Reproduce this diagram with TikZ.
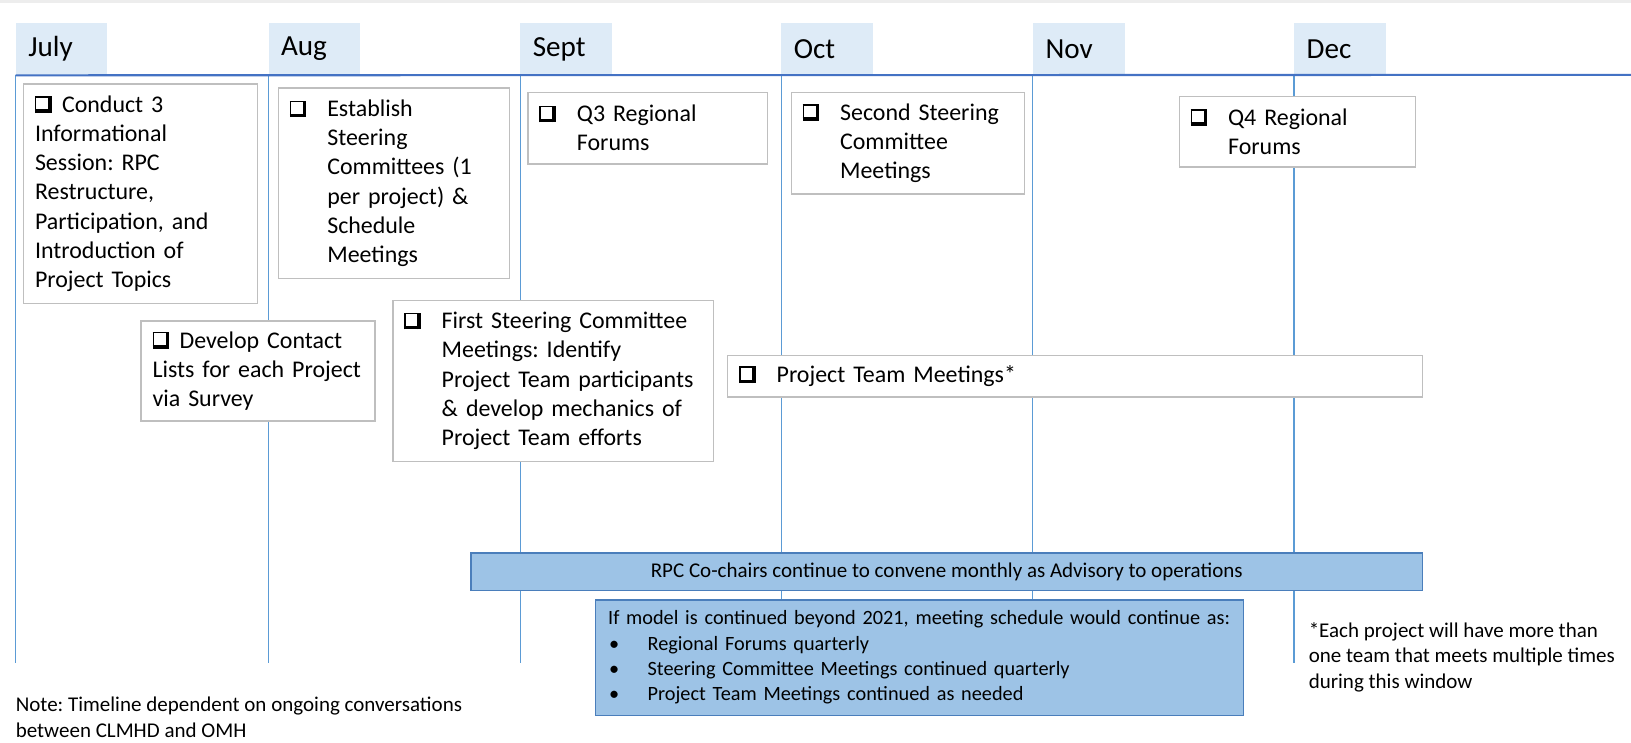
\documentclass[tikz,border=0pt]{standalone}
\usepackage{fontspec}
\setmainfont{Carlito}
\frenchspacing
\definecolor{monthfill}{HTML}{DEEBF7}
\definecolor{axisblue}{HTML}{4472C4}
\definecolor{gridblue}{HTML}{5B9BD5}
\definecolor{barfill}{HTML}{9DC3E6}
\definecolor{barline}{HTML}{4A7EBB}
\definecolor{boxgray}{HTML}{BFBFBF}
\newcommand\chk{\raisebox{-0.5pt}{\rlap{\rule{16pt}{3.5pt}}\rlap{\rule{1.3pt}{16pt}}\rlap{\raisebox{14.7pt}{\rule{15pt}{1.3pt}}}\rlap{\kern12.5pt\rule{3.5pt}{16pt}}\kern16pt}}
\newcommand\chkh{\makebox[36pt][l]{\chk}}
\newcommand\chkn{\makebox[26pt][l]{\chk}}
\newcommand\ind{\hspace*{36pt}}
\newcommand\bul{\hspace*{1pt}\makebox[37pt][l]{\textbullet}}
\begin{document}
\begin{tikzpicture}[x=1pt, y=-1pt,
  month/.style={fill=monthfill, anchor=north west, text width=64pt, inner xsep=12pt, inner ysep=0pt, minimum height=50pt, align=left, font=\fontsize{28}{34}\selectfont},
  grid/.style={gridblue, line width=1pt},
  task/.style={draw=boxgray, line width=1.3pt, fill=white, anchor=north west, align=left, inner xsep=11pt, font=\fontsize{23}{28}\selectfont},
  bar/.style={draw=barline, line width=1.3pt, fill=barfill, anchor=north west, font=\fontsize{19.5}{24.3}\selectfont},
  note/.style={anchor=north west, inner sep=0pt, align=left, font=\fontsize{20.2}{24.5}\selectfont}]
\useasboundingbox (0,0) rectangle (1568,714.3);
\fill[black!7] (0,0) rectangle (1568,3);
\coordinate (base) at (0,637);
\coordinate (axisend) at (1568,72);
\foreach \m/\x/\t in {jul/15/July, aug/258/Aug, sep/500/Sept, oct/751/Oct, nov/993/Nov, dec/1244/Dec} {
  \node[month] (\m) at (\x,22) {\t};
  \draw[grid] (\m.south west) -- (\m.south west |- base);
}
\draw[axisblue, line width=2pt] (jul.south west) -- (axisend);
\node[task, text width=203pt, minimum height=211pt] (conduct) at (22,80) {\chkn Conduct 3\\Informational\\Session: RPC\\Restructure,\\Participation, and\\Introduction of\\Project Topics};
\node[task, text width=200pt, minimum height=183pt] (establish) at (267,84) {\chkh Establish\\\ind Steering\\\ind Committees (1\\\ind per project) \&\\\ind Schedule\\\ind Meetings};
\node[task, text width=208pt, minimum height=69pt] (qthree) at (507,88) {\chkh Q3 Regional\\\ind Forums};
\node[task, text width=202pt, minimum height=98pt] (second) at (760,88) {\chkh Second Steering\\\ind Committee\\\ind Meetings};
\node[task, text width=205pt, minimum height=68pt] (qfour) at (1133,92) {\chkh Q4 Regional\\\ind Forums};
\node[task, text width=203pt, minimum height=96pt] (contact) at (135,308) {\chkn Develop Contact\\Lists for each Project\\via Survey};
\node[task, text width=286pt, minimum height=155pt] (first) at (377,288) {\chkh First Steering Committee\\\ind Meetings: Identify\\\ind Project Team participants\\\ind \& develop mechanics of\\\ind Project Team efforts};
\node[task, text width=646pt, minimum height=40pt] (teams) at (699,341) {\chkh Project Team Meetings*};
\node[bar, minimum width=915pt, minimum height=36pt, font=\fontsize{20.2}{24.3}\selectfont] (cochairs) at (452,531) {RPC Co-chairs continue to convene monthly as Advisory to operations};
\node[bar, text width=599pt, inner xsep=12pt, minimum height=111pt, align=left] (model) at (572,576) {If model is continued beyond 2021, meeting schedule would continue as:\\\bul Regional Forums quarterly\\\bul Steering Committee Meetings continued quarterly\\\bul Project Team Meetings continued as needed};
\node[note] (timeline) at (15,670) {Note: Timeline dependent on ongoing conversations\\between CLMHD and OMH};
\node[note] (each) at (1258,598) {*Each project will have more than\\one team that meets multiple times\\during this window};
\end{tikzpicture}
\end{document}
